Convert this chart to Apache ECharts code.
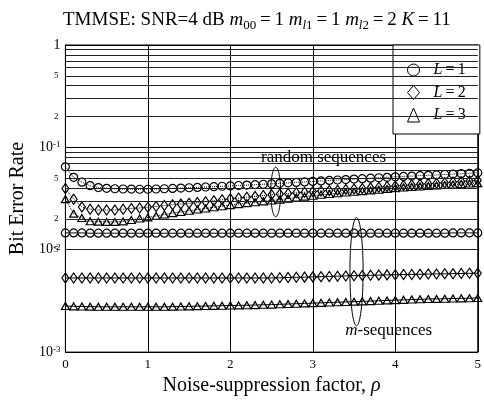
<!DOCTYPE html>
<html><head><meta charset="utf-8">
<script src="https://cdn.jsdelivr.net/npm/echarts@6/dist/echarts.min.js"></script>
<style>html,body{margin:0;padding:0;background:#fff}#c{width:484px;height:401px}</style>
</head><body><div id="c"></div>
<script>
// ---- data ----
const rho = [0,0.1,0.2,0.3,0.4,0.5,0.6,0.7,0.8,0.9,1,1.1,1.2,1.3,1.4,1.5,1.6,1.7,1.8,1.9,2,2.1,2.2,2.3,2.4,2.5,2.6,2.7,2.8,2.9,3,3.1,3.2,3.3,3.4,3.5,3.6,3.7,3.8,3.9,4,4.1,4.2,4.3,4.4,4.5,4.6,4.7,4.8,4.9,5];
const randomL1 = [0.0645,0.051,0.0457,0.0422,0.0405,0.0398,0.0394,0.0392,0.0391,0.039,0.039,0.0392,0.0394,0.0397,0.04,0.0403,0.0406,0.041,0.0413,0.0417,0.042,0.0424,0.0428,0.0432,0.0436,0.044,0.0445,0.045,0.0455,0.046,0.0465,0.047,0.0475,0.048,0.0485,0.049,0.0495,0.05,0.0505,0.051,0.0515,0.052,0.0524,0.0529,0.0533,0.0538,0.0543,0.0548,0.0553,0.0558,0.0565];
const randomL2 = [0.0397,0.0312,0.0262,0.0249,0.0244,0.0244,0.0245,0.0249,0.0253,0.0256,0.026,0.0265,0.027,0.0275,0.0279,0.0284,0.0289,0.0295,0.0301,0.0308,0.0315,0.032,0.0326,0.0332,0.0338,0.0344,0.035,0.0355,0.036,0.0365,0.037,0.0374,0.0378,0.0382,0.0387,0.0392,0.0397,0.0402,0.0408,0.0414,0.042,0.0425,0.043,0.0435,0.044,0.0446,0.0452,0.0458,0.0464,0.047,0.0476];
const randomL3 = [0.0312,0.0225,0.0204,0.019,0.0188,0.0187,0.0187,0.0189,0.0195,0.0202,0.0207,0.0214,0.0221,0.0228,0.0234,0.024,0.0247,0.0253,0.026,0.0266,0.0273,0.0279,0.0285,0.0291,0.0297,0.0303,0.0309,0.0316,0.0323,0.033,0.0337,0.0344,0.035,0.0356,0.0362,0.0368,0.0374,0.038,0.0386,0.0393,0.04,0.0405,0.041,0.0415,0.042,0.0425,0.043,0.0434,0.0438,0.0443,0.0447];
const mSeqL1 = [0.0146,0.0146,0.0146,0.0145,0.0145,0.0145,0.0145,0.0145,0.0145,0.0145,0.0145,0.0145,0.0145,0.0145,0.0145,0.0145,0.0145,0.0145,0.0145,0.0145,0.0145,0.0145,0.0145,0.0145,0.0145,0.0145,0.0145,0.0145,0.0145,0.0145,0.0145,0.0145,0.0145,0.0145,0.0145,0.0145,0.0145,0.0145,0.0145,0.0145,0.0145,0.0145,0.0145,0.0145,0.0145,0.0145,0.0145,0.0146,0.0146,0.0146,0.0146];
const mSeqL2 = [0.0053,0.0053,0.0053,0.0053,0.0053,0.0053,0.0053,0.0053,0.0053,0.0053,0.0053,0.0053,0.0053,0.0053,0.0053,0.0053,0.0053,0.0053,0.0053,0.0053,0.0053,0.0053,0.0053,0.0053,0.0053,0.0053,0.00532,0.00535,0.00538,0.0054,0.00543,0.00546,0.00549,0.00552,0.00555,0.00558,0.0056,0.00563,0.00565,0.00568,0.0057,0.00572,0.00574,0.00576,0.00578,0.0058,0.00582,0.00584,0.00586,0.00588,0.0059];
const mSeqL3 = [0.00282,0.0028,0.00279,0.00278,0.00277,0.00277,0.00277,0.00277,0.00277,0.00277,0.00277,0.00277,0.00277,0.00278,0.00279,0.0028,0.00281,0.00282,0.00283,0.00284,0.00285,0.00286,0.00287,0.00288,0.0029,0.00291,0.00293,0.00295,0.00297,0.00299,0.00301,0.00303,0.00305,0.00307,0.00309,0.00311,0.00313,0.00315,0.00317,0.0032,0.00322,0.00324,0.00326,0.00328,0.0033,0.00331,0.00332,0.00334,0.00335,0.00336,0.00338];
const legendNames = ['L=1','L=2','L=3'];
const minorGridValues = [0.002,0.003,0.004,0.005,0.006,0.007,0.008,0.009,0.02,0.03,0.04,0.05,0.06,0.07,0.08,0.09,0.2,0.3,0.4,0.5,0.6,0.7,0.8,0.9];
const minorLabelValues = [0.002,0.005,0.02,0.05,0.2,0.5];
const minorLabelText = ['2','5','2','5','2','5'];

// ---- chart ----
const FONT = "'Liberation Serif','Times New Roman',serif";
const TS = '\u2009';
const chart = echarts.init(document.getElementById('c'), null, {renderer:'canvas'});
const pairs = arr => rho.map((x,i)=>[x, arr[i]]);
const symbols = ['circle','diamond','triangle'];
const symSizes = [8,[7,10],[8,7]];

function mkSeries(name, arr, k, dotted){
  return {
    name: name, type:'line', data: pairs(arr),
    symbol: symbols[k], symbolSize: symSizes[k], showSymbol:true,
    lineStyle:{color:'#000', width:1, type: dotted ? 'dotted' : 'solid'},
    itemStyle:{color:'rgba(0,0,0,0)', borderColor:'#000', borderWidth:1.2},
    emphasis:{disabled:true}, z:3
  };
}
const series = [
  mkSeries(legendNames[0], randomL1, 0, true),
  mkSeries(legendNames[1], randomL2, 1, true),
  mkSeries(legendNames[2], randomL3, 2, true),
  mkSeries(legendNames[0], mSeqL1, 0, false),
  mkSeries(legendNames[1], mSeqL2, 1, false),
  mkSeries(legendNames[2], mSeqL3, 2, false)
];
series[0].markLine = {
  silent:true, symbol:['none','none'], animation:false,
  lineStyle:{color:'#222', width:1, type:'solid'},
  label:{show:false},
  data: minorGridValues.map(v=>{
    const li = minorLabelValues.indexOf(v);
    const d = {yAxis:v};
    if (li>=0) d.label = {show:true, position:'start', formatter: minorLabelText[li], color:'#000', fontFamily:FONT, fontSize:9, distance:7};
    return d;
  })
};

const option = {
  animation:false,
  backgroundColor:'#fff',
  textStyle:{fontFamily:FONT, color:'#000'},
  title:{
    text:'TMMSE: SNR=4 dB {i|m}{s|00}'+TS+'='+TS+'1 {i|m}{si|l}{s|1}'+TS+'='+TS+'1 {i|m}{si|l}{s|2}'+TS+'='+TS+'2 {i|K}'+TS+'='+TS+'11',
    left:58, top:3,
    textStyle:{fontFamily:FONT, fontSize:19, fontWeight:'normal', color:'#000', lineHeight:24,
      rich:{
        i:{fontFamily:FONT, fontSize:19, fontStyle:'italic', color:'#000', lineHeight:24},
        s:{fontFamily:FONT, fontSize:13, color:'#000', verticalAlign:'bottom', lineHeight:14},
        si:{fontFamily:FONT, fontSize:13, fontStyle:'italic', color:'#000', verticalAlign:'bottom', lineHeight:14}
      }}
  },
  legend:{
    data: legendNames.map((n,k)=>({name:n, icon:symbols[k]})),
    orient:'vertical', left:393, top:45,
    padding:[17,14,11,14], itemGap:6.5, itemWidth:12, itemHeight:14,
    backgroundColor:'#fff', borderColor:'#000', borderWidth:1, borderRadius:0,
    selectedMode:false,
    itemStyle:{color:'rgba(0,0,0,0)', borderColor:'#000', borderWidth:1},
    formatter: n => '{i|L}' + TS + '=' + TS + n.slice(2),
    textStyle:{fontFamily:FONT, fontSize:16, color:'#000', lineHeight:14, padding:[0,0,0,9],
      rich:{i:{fontFamily:FONT, fontSize:16, fontStyle:'italic', color:'#000', lineHeight:14}}}
  },
  grid:{left:59, right:3, top:45, bottom:41, show:true, borderColor:'#000', borderWidth:1, backgroundColor:'transparent', containLabel:false},
  xAxis:{
    type:'value', min:0, max:5, interval:1,
    name:'Noise-suppression factor, {i|ρ}', nameLocation:'middle', nameGap:16,
    nameTextStyle:{fontFamily:FONT, fontSize:20, color:'#000', rich:{i:{fontFamily:FONT, fontSize:20, fontStyle:'italic', color:'#000'}}},
    axisLine:{show:true, lineStyle:{color:'#000', width:1}},
    axisTick:{show:false},
    axisLabel:{fontFamily:FONT, fontSize:13, color:'#000', margin:6},
    splitLine:{show:true, lineStyle:{color:'#000', width:1}}
  },
  yAxis:{
    type:'log', logBase:10, min:0.001, max:1,
    name:'Bit Error Rate', nameLocation:'middle', nameGap:26,
    nameTextStyle:{fontFamily:FONT, fontSize:20, color:'#000'},
    axisLine:{show:true, lineStyle:{color:'#000', width:1}},
    axisTick:{show:false},
    axisLabel:{
      fontFamily:FONT, fontSize:14, color:'#000', margin:5,
      formatter: v => {
        const e = Math.round(Math.log10(v));
        if (e === 0) return '1';
        return '10{sup|' + e + '}';
      },
      rich:{sup:{fontFamily:FONT, fontSize:9, color:'#000', verticalAlign:'top', lineHeight:9, padding:[0,0,6,0]}}
    },
    splitLine:{show:true, lineStyle:{color:'#000', width:1}}
  },
  series: series
};
chart.setOption(option);

// ---- annotations (placed through the axes) ----
const px = (x,y) => chart.convertToPixel({gridIndex:0},[x,y]);
function ellipse(xc, yTop, yBot, halfW){
  const t = px(xc, yTop), b = px(xc, yBot), r = px(xc + halfW, yTop);
  return {type:'ellipse', silent:true, z:10,
    shape:{cx:t[0], cy:(t[1]+b[1])/2, rx:r[0]-t[0], ry:(b[1]-t[1])/2},
    style:{fill:'none', stroke:'#000', lineWidth:1}};
}
function label(x, y, txt, size){
  const p = px(x,y);
  return {type:'text', silent:true, z:10, x:p[0], y:p[1],
    style:{text:txt, fill:'#000', font:size + 'px ' + FONT, align:'center', verticalAlign:'middle',
      rich:{i:{fontFamily:FONT, fontSize:size, fontStyle:'italic', fill:'#000'}}}};
}
chart.setOption({graphic:[
  ellipse(2.55, 0.064, 0.021, 0.06),
  ellipse(3.53, 0.0206, 0.00181, 0.08),
  label(3.13, 0.079, 'random sequences', 17),
  label(3.92, 0.00162, '{i|m}-sequences', 17)
]});
</script>
</body></html>
